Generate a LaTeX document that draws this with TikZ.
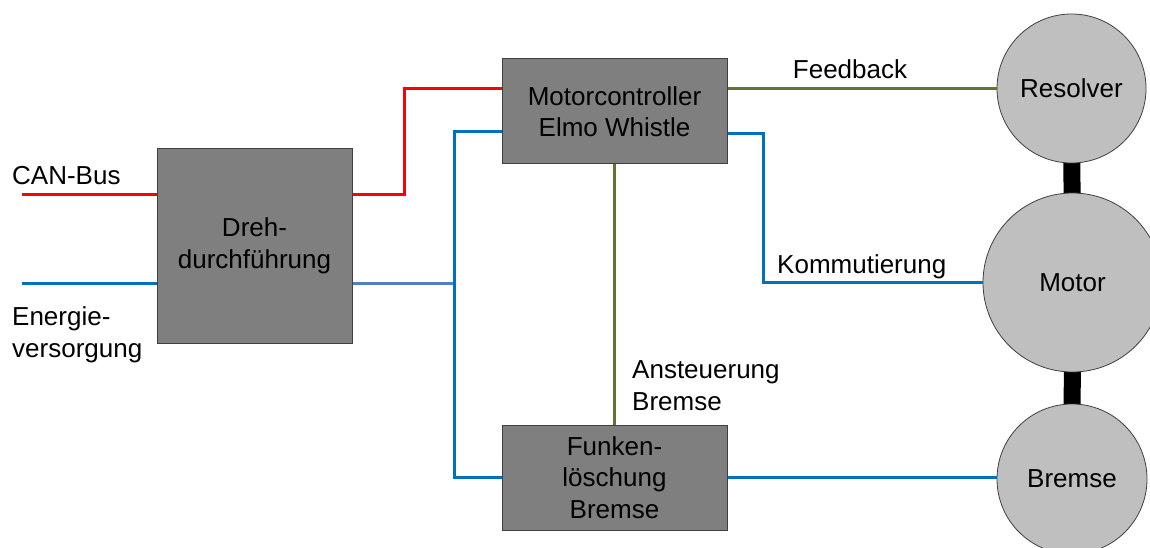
\documentclass[tikz,border=0pt]{standalone}
\usepackage{fontspec}
\setmainfont{Liberation Sans}
\usetikzlibrary{backgrounds}
\definecolor{cred}{RGB}{255,0,0}
\definecolor{cblue}{RGB}{0,112,192}
\definecolor{cblueb}{RGB}{79,129,189}
\definecolor{cgreen}{RGB}{95,117,48}
\definecolor{boxfill}{RGB}{127,127,127}
\definecolor{circfill}{RGB}{191,191,191}
\definecolor{edge}{RGB}{64,64,64}
\begin{document}
\begin{tikzpicture}[x=1pt,y=-1pt,
  every node/.style={font=\fontsize{26}{31.5}\selectfont, inner sep=0pt},
  graybox/.style={draw=edge, line width=1pt, fill=boxfill, align=center},
  part/.style={circle, draw=edge, line width=0.8pt, fill=circfill},
  wire/.style={line width=3pt},
  shaft/.style={line width=17pt, black}]
\useasboundingbox (0,0) rectangle (1150,548);

% boxes
\node[graybox, minimum width=195pt, minimum height=194pt] (dreh) at (254.5,246) {Dreh-\\durchführung};
\node[graybox, minimum width=225pt, minimum height=105pt] (mc) at (614.5,111.5) {Motorcontroller\\Elmo Whistle};
\node[graybox, minimum width=225pt, minimum height=105pt] (fk) at (614.5,477.5) {Funken-\\löschung\\Bremse};

% parts
\node[part, minimum size=149pt] (resolver) at (1071.5,88.5) {Resolver};
\node[part, minimum size=179pt] (motor) at (1072.5,282.5) {Motor};
\node[part, minimum size=150pt] (bremse) at (1072,479) {Bremse};

\begin{scope}[on background layer]
\fill[white] (0,0) rectangle (1150,548);
\draw[shaft] (resolver.center) -- (motor.center);
\draw[shaft] (motor.center) -- (bremse.center);
\end{scope}

% coordinates
\coordinate (can) at (22,194);
\coordinate (en) at (22,283);
\coordinate (r1) at (404,89);
\coordinate (b1) at (454,132);
\coordinate (bj) at (454,283);
\coordinate (k1) at (763,134);

% wires
\draw[wire, cred] (can) -- (can -| dreh.west);
\draw[wire, cred] (can -| dreh.east) -| (r1) -- (r1 -| mc.west);
\draw[wire, cblue] (en) -- (en -| dreh.west);
\draw[wire, cblueb] (en -| dreh.east) -- (bj);
\draw[wire, cblue] (b1 -| mc.west) -- (b1) |- (fk.west);
\draw[wire, cgreen] (mc.south) -- (fk.north);
\draw[wire, cgreen] (mc.east |- resolver.west) -- (resolver.west);
\draw[wire, cblue] (k1 -| mc.east) -- (k1) |- (motor.west);
\draw[wire, cblue] (fk.east) -- (bremse.west |- fk.east);

% labels
\node[anchor=base west] (lcan) at (12,185) {CAN-Bus};
\node[anchor=north west, align=left] (len) at (12,306.5) {Energie-\\versorgung};
\node[anchor=base] (lfb) at (850,79) {Feedback};
\node[anchor=base west] (lkom) at (777,273) {Kommutierung};
\node[anchor=north west, align=left] (lans) at (632,360.5) {Ansteuerung\\Bremse};
\end{tikzpicture}
\end{document}
